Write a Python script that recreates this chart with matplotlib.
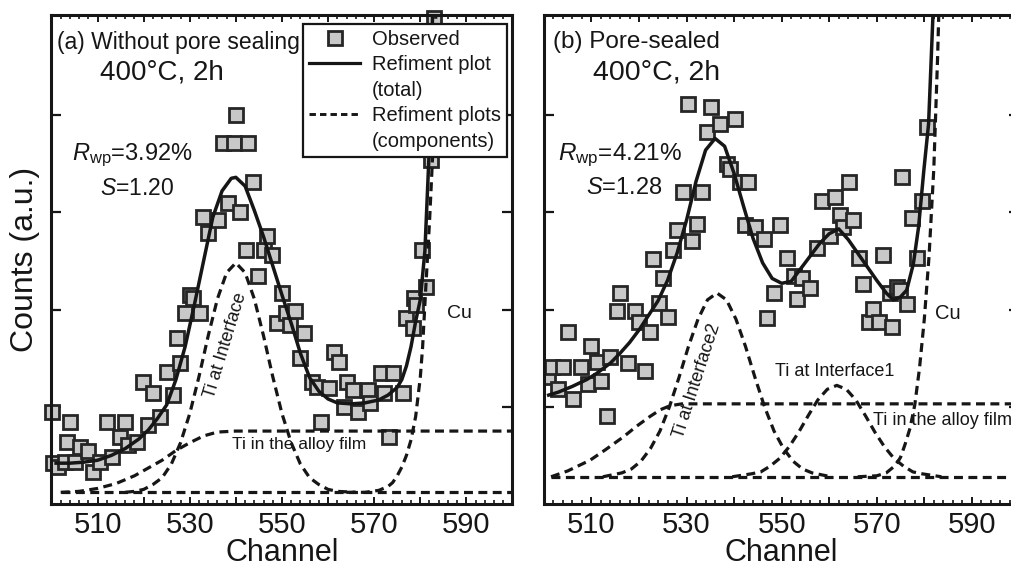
import matplotlib
matplotlib.use('Agg')
import matplotlib.pyplot as plt
from matplotlib.lines import Line2D

plt.rcParams['font.family'] = ['Liberation Sans', 'DejaVu Sans']
plt.rcParams['mathtext.fontset'] = 'custom'
plt.rcParams['mathtext.rm'] = 'Liberation Sans'
plt.rcParams['mathtext.it'] = 'Liberation Sans:italic'

################################################################
#     DATA  (a) without pore sealing                           #
################################################################
obs_a_ch = [500.1, 500.3, 501.4, 502.9, 503.4, 504.0, 505.1, 506.2, 507.9, 509.0,
            510.5, 512.1, 513.2, 514.9, 516.0, 516.6, 518.6, 519.9, 521.0, 522.1,
            523.6, 525.1, 526.4, 527.3, 527.9, 529.0, 530.1, 530.8, 532.3, 532.9,
            534.0, 536.2, 537.3, 538.4, 539.5, 540.1, 541.0, 542.1, 542.7, 543.8,
            544.9, 546.0, 546.8, 547.9, 549.0, 550.1, 550.8, 551.8, 552.9, 554.0,
            554.7, 556.6, 557.7, 558.4, 560.1, 561.2, 562.3, 563.4, 564.2, 565.5,
            566.4, 568.6, 569.2, 571.4, 572.1, 573.2, 574.0, 576.2, 576.8, 578.4,
            578.6, 579.0, 580.3, 581.2, 582.3, 582.9]
obs_a = [0.95, 0.42, 0.38, 0.43, 0.64, 0.84, 0.43, 0.59, 0.55, 0.33,
         0.43, 0.84, 0.48, 0.69, 0.84, 0.61, 0.64, 1.25, 0.81, 1.14,
         0.89, 1.36, 1.12, 1.71, 1.45, 1.96, 2.15, 2.12, 1.96, 2.95,
         2.79, 2.92, 3.71, 3.10, 3.71, 4.00, 3.00, 2.61, 3.71, 3.31,
         2.35, 2.61, 2.76, 2.56, 1.86, 2.17, 1.96, 1.84, 1.99, 1.50,
         1.76, 1.25, 1.20, 0.84, 1.19, 1.56, 1.46, 1.00, 1.25, 1.17,
         0.95, 1.17, 1.04, 1.35, 1.14, 0.69, 1.35, 1.14, 1.91, 1.81,
         2.12, 2.05, 2.61, 2.23, 3.54, 5.00]

tot_a_ch = [501, 504, 507, 510, 513, 516, 519, 521, 523, 525, 527, 529, 531, 533, 535,
            537, 539, 540, 542, 544, 546, 548, 550, 552, 554, 556, 558, 560, 562, 565,
            568, 571, 573, 575, 576, 577, 578, 579, 580, 581, 582, 582.7, 583.2]
tot_a = [0.42, 0.42, 0.43, 0.45, 0.50, 0.57, 0.67, 0.76, 0.88, 1.02, 1.28, 1.62, 2.05, 2.50, 2.95,
         3.22, 3.35, 3.36, 3.27, 3.02, 2.75, 2.45, 2.15, 1.86, 1.55, 1.30, 1.16, 1.08, 1.04, 1.03,
         1.04, 1.07, 1.12, 1.20, 1.28, 1.42, 1.62, 1.88, 2.10, 2.60, 3.70, 5.10, 5.80]

base_a_ch = [502, 600]
base_a = [0.12, 0.12]

alloy_a_ch = [502, 506, 510, 514, 518, 521, 524, 527, 530, 533, 536, 540, 600]
alloy_a = [0.12, 0.13, 0.16, 0.21, 0.29, 0.37, 0.45, 0.55, 0.63, 0.70, 0.74, 0.75, 0.75]

iface_a_ch = [516, 518, 520, 522, 524, 526, 528, 530, 532, 534, 536, 538, 540,
              542, 544, 546, 548, 550, 552, 554, 556, 558, 560, 562, 566]
iface_a = [0.12, 0.13, 0.15, 0.20, 0.27, 0.41, 0.63, 0.93, 1.31, 1.73, 2.11, 2.38, 2.48,
           2.38, 2.11, 1.73, 1.31, 0.93, 0.63, 0.41, 0.27, 0.20, 0.15, 0.13, 0.12]

cu_a_ch = [564, 568, 571, 573, 574, 575, 576, 577, 578, 579, 580, 580.5, 581.2, 582, 582.7, 583.4, 583.8]
cu_a = [0.12, 0.12, 0.14, 0.18, 0.22, 0.29, 0.38, 0.50, 0.66, 0.90, 1.30, 1.61, 2.23, 2.90, 3.60, 5.10, 5.80]

################################################################
#     DATA  (b) pore-sealed                                    #
################################################################
obs_b_ch = [500.2, 500.9, 501.7, 503.0, 504.0, 505.1, 506.2, 507.9, 509.3, 510.0,
            511.1, 512.1, 513.2, 513.9, 515.3, 516.0, 517.7, 519.2, 519.9, 521.3,
            522.3, 523.0, 524.1, 525.1, 526.2, 527.2, 527.9, 529.3, 530.2, 531.1,
            532.1, 533.2, 534.3, 535.1, 537.1, 538.5, 539.2, 540.2, 541.3, 542.3,
            543.0, 544.4, 546.2, 546.9, 548.3, 549.7, 551.1, 552.5, 553.2, 554.3,
            556.0, 557.4, 558.5, 560.2, 561.3, 562.3, 563.0, 564.1, 565.1, 566.2,
            567.2, 568.3, 569.3, 570.4, 571.4, 572.8, 573.2, 574.2, 574.9, 575.3,
            576.4, 577.4, 578.5, 579.5, 580.6]
obs_b = [1.32, 1.31, 1.41, 1.18, 1.41, 1.77, 1.08, 1.41, 1.23, 1.62,
         1.46, 1.26, 0.91, 1.51, 1.98, 2.17, 1.45, 1.98, 1.87, 1.37,
         1.77, 2.52, 2.07, 2.32, 1.92, 2.61, 2.82, 3.21, 4.11, 2.71,
         2.88, 3.21, 3.83, 4.08, 3.91, 3.50, 3.45, 3.96, 3.31, 2.87,
         3.31, 2.85, 2.73, 1.91, 2.17, 2.87, 2.53, 2.35, 2.11, 2.32,
         2.22, 2.63, 3.12, 2.76, 3.16, 2.97, 2.85, 3.31, 2.92, 2.53,
         2.26, 1.87, 2.01, 1.87, 2.56, 2.17, 1.82, 2.23, 2.20, 3.36,
         2.06, 2.94, 2.53, 3.12, 3.88]

tot_b_ch = [501, 503, 506, 509, 511, 514, 516, 518, 520, 522, 524, 526, 528, 530, 532,
            534, 536, 538, 540, 542, 544, 546, 548, 550, 552, 554, 556, 558, 560, 562,
            564, 566, 568, 570, 572, 573.5, 575, 576.3, 577.7, 578.8, 579.9, 580.9, 581.8, 582.2]
tot_b = [1.12, 1.15, 1.21, 1.28, 1.34, 1.45, 1.55, 1.66, 1.79, 1.94, 2.09, 2.30, 2.58, 2.92, 3.32,
         3.64, 3.76, 3.68, 3.40, 3.06, 2.73, 2.48, 2.32, 2.27, 2.29, 2.42, 2.55, 2.68, 2.78, 2.83,
         2.72, 2.58, 2.44, 2.30, 2.17, 2.10, 2.13, 2.20, 2.47, 2.85, 3.43, 3.91, 5.00, 5.60]

base_b_ch = [501.5, 600]
base_b = [0.28, 0.28]

alloy_b_ch = [501.5, 505, 509.7, 513, 516.7, 519.5, 522.3, 524.5, 526.5, 529, 600]
alloy_b = [0.28, 0.34, 0.45, 0.56, 0.69, 0.80, 0.90, 0.97, 1.01, 1.03, 1.03]

iface2_b_ch = [512.4, 516.4, 518.4, 520.4, 522.4, 524.4, 526.4, 528.4, 530.4, 532.4, 534.4, 536.4,
               538.4, 540.4, 542.4, 544.4, 546.4, 548.4, 550.4, 552.4, 554.4, 556.4, 560.4]
iface2_b = [0.28, 0.32, 0.36, 0.44, 0.57, 0.75, 1.00, 1.30, 1.62, 1.90, 2.10, 2.17,
            2.10, 1.90, 1.62, 1.30, 1.00, 0.75, 0.57, 0.44, 0.36, 0.32, 0.28]

iface1_b_ch = [539.6, 543.6, 545.6, 547.6, 549.6, 551.6, 553.6, 555.6, 557.6, 559.6, 561.6,
               563.6, 565.6, 567.6, 569.6, 571.6, 573.6, 575.6, 577.6, 579.6, 583.6]
iface1_b = [0.28, 0.31, 0.33, 0.39, 0.47, 0.59, 0.74, 0.91, 1.07, 1.18, 1.22,
            1.18, 1.07, 0.91, 0.74, 0.59, 0.47, 0.39, 0.33, 0.31, 0.28]

cu_b_ch = [566, 570, 572, 574, 575, 576, 577, 578, 579, 580, 581, 582, 582.8, 583.3]
cu_b = [0.28, 0.29, 0.32, 0.40, 0.48, 0.62, 0.78, 1.02, 1.40, 1.90, 2.55, 3.45, 4.60, 5.50]

xtick_pos = [500, 510, 520, 530, 540, 550, 560, 570, 580, 590, 600]
xtick_lab = ['', '510', '', '530', '', '550', '', '570', '', '590', '']
ytick_pos = [1, 2, 3, 4]

legend_labels = ['Observed', 'Refiment plot', '(total)', 'Refiment plots', '(components)']

################################################################
#     PLOTTING                                                 #
################################################################
ink = '#161616'
fig = plt.figure(figsize=(10.11, 5.72), dpi=100)
ax_a = fig.add_axes([0.0509, 0.1189, 0.456, 0.8549])
ax_b = fig.add_axes([0.538, 0.1189, 0.4703, 0.8549])

mk = dict(ls='none', marker='s', ms=10, mfc='#c8c8c8', mec='#262626', mew=2.0, zorder=2)
solid = dict(color=ink, lw=2.5, zorder=3)
dash = dict(color=ink, lw=2.3, dashes=(2.8, 1.7), zorder=3)


def style(ax):
    ax.set_xlim(500, 600)
    ax.set_ylim(0, 5.03)
    ax.set_xticks(xtick_pos)
    ax.set_xticklabels(xtick_lab)
    ax.set_xticks(range(500, 601, 2), minor=True)
    ax.set_yticks(ytick_pos)
    ax.set_yticklabels([])
    ax.tick_params(which='both', direction='in', top=True, right=True, colors=ink)
    ax.tick_params(axis='x', which='major', length=5, width=1.4, labelsize=21, pad=5)
    ax.tick_params(axis='x', which='minor', length=3, width=1.2)
    ax.tick_params(axis='y', which='major', length=7, width=1.6)
    for s in ax.spines.values():
        s.set_linewidth(2.2)
        s.set_color(ink)
    ax.set_xlabel('Channel', fontsize=22, color=ink, labelpad=-1)


# panel (a)
ax_a.plot(obs_a_ch, obs_a, clip_on=False, **mk)
ax_a.plot(tot_a_ch, tot_a, **solid)
ax_a.plot(base_a_ch, base_a, **dash)
ax_a.plot(alloy_a_ch, alloy_a, **dash)
ax_a.plot(iface_a_ch, iface_a, **dash)
ax_a.plot(cu_a_ch, cu_a, **dash)
style(ax_a)
ax_a.set_ylabel('Counts (a.u.)', fontsize=23, color=ink, labelpad=5)

ax_a.text(501.2, 4.75, '(a) Without pore sealing', fontsize=16.5, color=ink, va='center')
ax_a.text(510.5, 4.44, '400\u00b0C, 2h', fontsize=20, color=ink, va='center')
ax_a.text(504.5, 3.59, r'$\mathit{R}_{\mathrm{wp}}$=3.92%', fontsize=17, color=ink, va='center')
ax_a.text(510.5, 3.25, r'$\mathit{S}$=1.20', fontsize=16.5, color=ink, va='center')
ax_a.text(537.7, 1.63, 'Ti at Interface', fontsize=13, color=ink, rotation=73,
          ha='center', va='center')
ax_a.text(539.2, 0.61, 'Ti in the alloy film', fontsize=12.5, color=ink, va='center')
ax_a.text(585.8, 1.96, 'Cu', fontsize=14, color=ink, va='center')

handles = [Line2D([], [], ls='none', marker='s', ms=10, mfc='#c8c8c8', mec='#262626', mew=2.0),
           Line2D([], [], color=ink, lw=2.3),
           Line2D([], [], ls='none'),
           Line2D([], [], color=ink, lw=2.1, dashes=(2.2, 1.4)),
           Line2D([], [], ls='none')]
leg = ax_a.legend(handles, legend_labels, loc='upper right', bbox_to_anchor=(0.988, 0.982),
                  fontsize=14.5, frameon=True, fancybox=False, framealpha=1,
                  handlelength=2.5, handletextpad=0.6, borderpad=0.3,
                  labelspacing=0.32, borderaxespad=0)
leg.get_frame().set_edgecolor(ink)
leg.get_frame().set_linewidth(1.6)
leg.set_zorder(5)
for t in leg.get_texts():
    t.set_color(ink)

# panel (b)
ax_b.plot(obs_b_ch, obs_b, **mk)
ax_b.plot(tot_b_ch, tot_b, **solid)
ax_b.plot(base_b_ch, base_b, **dash)
ax_b.plot(alloy_b_ch, alloy_b, **dash)
ax_b.plot(iface2_b_ch, iface2_b, **dash)
ax_b.plot(iface1_b_ch, iface1_b, **dash)
ax_b.plot(cu_b_ch, cu_b, **dash)
style(ax_b)

ax_b.text(501.9, 4.75, '(b) Pore-sealed', fontsize=17.5, color=ink, va='center')
ax_b.text(510.3, 4.44, '400\u00b0C, 2h', fontsize=20.5, color=ink, va='center')
ax_b.text(502.9, 3.59, r'$\mathit{R}_{\mathrm{wp}}$=4.21%', fontsize=17.5, color=ink, va='center')
ax_b.text(508.8, 3.25, r'$\mathit{S}$=1.28', fontsize=17, color=ink, va='center')
ax_b.text(532.2, 1.27, 'Ti at Interface2', fontsize=13, color=ink, rotation=72,
          ha='center', va='center')
ax_b.text(548.6, 1.36, 'Ti at Interface1', fontsize=13, color=ink, va='center')
ax_b.text(569.3, 0.86, 'Ti in the alloy film', fontsize=13, color=ink, va='center')
ax_b.text(582.3, 1.96, 'Cu', fontsize=14.5, color=ink, va='center')

fig.savefig('out.png', dpi=100)
